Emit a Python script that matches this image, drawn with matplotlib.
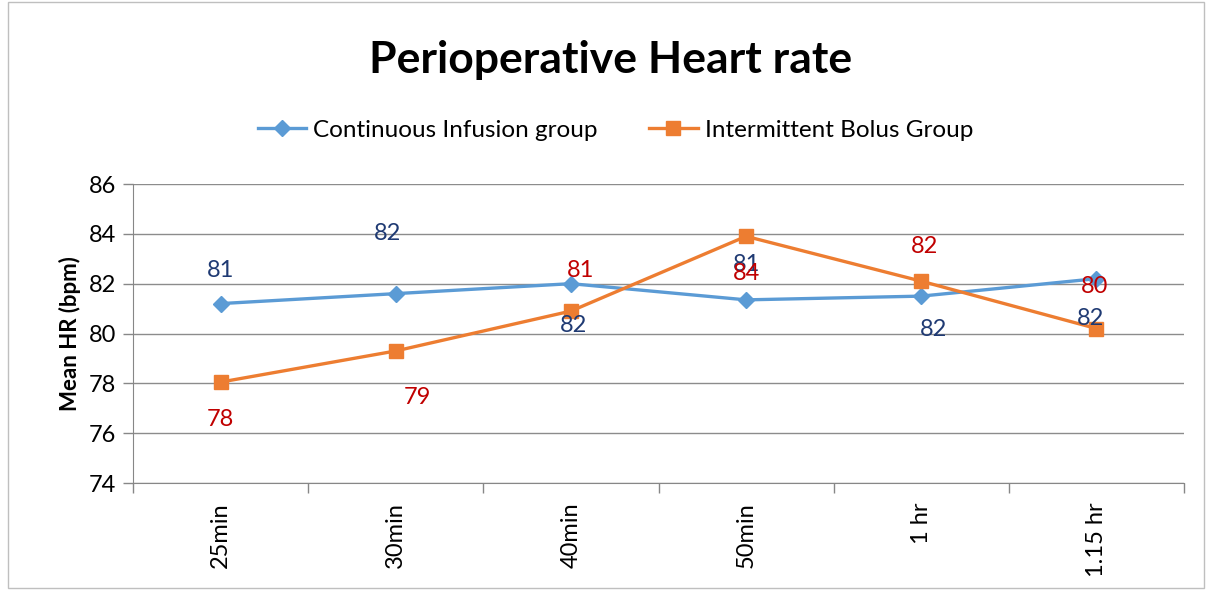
import matplotlib
matplotlib.use("Agg")
import matplotlib.pyplot as plt
from matplotlib.patches import Rectangle

categories = ["25min", "30min", "40min", "50min", "1 hr", "1.15 hr"]
continuous = [81.2, 81.6, 82.0, 81.35, 81.5, 82.2]
intermittent = [78.05, 79.3, 80.9, 83.9, 82.1, 80.2]
series_names = ["Continuous Infusion group", "Intermittent Bolus Group"]

# label offsets in pixels (layout only)
cont_off = [(0, 33), (-8, 60), (3, -42), (0, 35), (12, -33), (-6, -40)]
int_off = [(0, -37), (22, -47), (10, 41), (0, -37), (3, 35), (-2, 42)]

plt.rcParams['font.family'] = ['Lato', 'DejaVu Sans']

fig = plt.figure(figsize=(12.11, 5.90), dpi=100)
ax = fig.add_axes([133/1211, 1-483/590, (1184-133)/1211, (483-184)/590])

x = list(range(len(categories)))
blue = "#5B9BD5"
orange = "#ED7D31"
ax.plot(x, continuous, color=blue, lw=2.4, marker="D", ms=8.5, label=series_names[0], zorder=3)
ax.plot(x, intermittent, color=orange, lw=2.4, marker="s", ms=10, label=series_names[1], zorder=3)

for i, v in enumerate(continuous):
    ax.annotate(f"{round(v)}", (i, v), xytext=cont_off[i], textcoords="offset pixels",
                ha="center", va="center", color="#1F3A73", fontsize=17, zorder=4)
for i, v in enumerate(intermittent):
    ax.annotate(f"{round(v)}", (i, v), xytext=int_off[i], textcoords="offset pixels",
                ha="center", va="center", color="#C00000", fontsize=17, zorder=4)

ax.set_ylim(74, 86)
ax.set_yticks(range(74, 87, 2))
ax.set_xlim(-0.5, len(categories) - 0.5)
ax.set_xticks(x)
ax.set_xticklabels(categories, rotation=90, fontsize=17)
ax.set_xticks([i - 0.5 for i in range(len(categories) + 1)], minor=True)
ax.tick_params(axis="x", which="major", length=0, pad=14)
ax.tick_params(axis="x", which="minor", length=7, color="#878787", width=1)
ax.tick_params(axis="y", length=7, color="#878787", width=1, labelsize=17, pad=5)
ax.grid(axis="y", color="#8C8C8C", lw=1)
ax.set_axisbelow(True)
for s in ["top", "right"]:
    ax.spines[s].set_visible(False)
for s in ["left", "bottom"]:
    ax.spines[s].set_color("#878787")
ax.set_ylabel("Mean HR (bpm)", fontsize=16, fontweight="bold", labelpad=6)

fig.text(0.504, 1-60/590, "Perioperative Heart rate", ha="center", va="center",
         fontsize=32, fontweight="bold")
ax.legend(loc="center", bbox_to_anchor=(0.459, 1+(184-130)/(483-184)),
          ncol=2, frameon=False, fontsize=17.5, handlelength=2.0, columnspacing=2.1, handletextpad=0.3)

fig.patches.append(Rectangle((8/1211, 0.003), 1196/1211, 0.994, transform=fig.transFigure,
                             fill=False, edgecolor="#BFBFBF", lw=1))
fig.savefig("out.png", dpi=100)
